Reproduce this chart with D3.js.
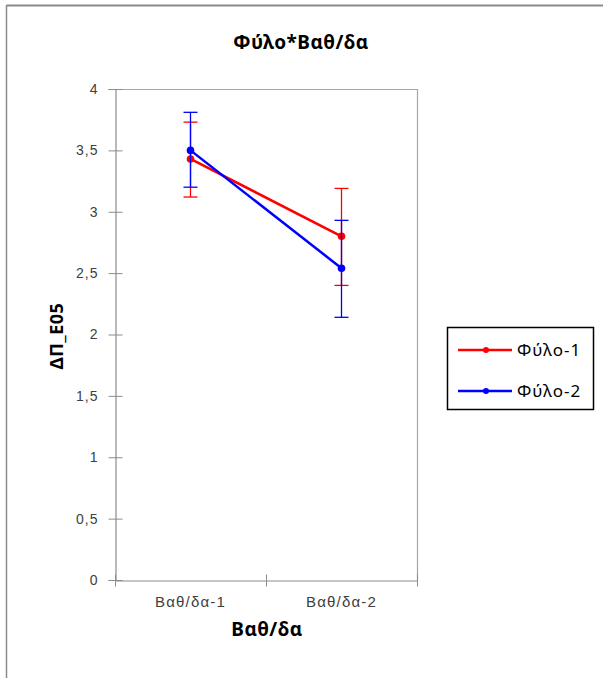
<!DOCTYPE html>
<html>
<head>
<meta charset="utf-8">
<script src="https://cdn.jsdelivr.net/npm/d3@7"></script>
<style>
  html, body { margin: 0; padding: 0; background: #fff; }
  svg { display: block; font-family: "Noto Sans", "Open Sans", sans-serif; }
</style>
</head>
<body>
<svg id="chart" width="603" height="678"></svg>
<script>
// ---------- DATA ----------
const categories = ["Βαθ/δα-1", "Βαθ/δα-2"];
const seriesNames = ["Φύλο-1", "Φύλο-2"];
const seriesColors = ["#ff0000", "#0000ff"];
const means1 = [3.43, 2.80];
const lower1 = [3.12, 2.40];
const upper1 = [3.73, 3.19];
const means2 = [3.50, 2.54];
const lower2 = [3.20, 2.14];
const upper2 = [3.81, 2.93];
const yTicks = [0, 0.5, 1, 1.5, 2, 2.5, 3, 3.5, 4];

const series = [
  { name: seriesNames[0], color: seriesColors[0], mean: means1, lo: lower1, hi: upper1 },
  { name: seriesNames[1], color: seriesColors[1], mean: means2, lo: lower2, hi: upper2 }
];

// ---------- LAYOUT ----------
const plot = { left: 115, right: 417, top: 89, bottom: 580 };
const svg = d3.select("#chart");

// outer frame (top + left edges only are visible in the reference)
svg.append("line").attr("x1", 6.5).attr("x2", 603).attr("y1", 5.5).attr("y2", 5.5)
  .attr("stroke", "#8a8a8a").attr("stroke-width", 2);
svg.append("line").attr("x1", 6.5).attr("x2", 6.5).attr("y1", 5).attr("y2", 678)
  .attr("stroke", "#8a8a8a").attr("stroke-width", 1.5);

const x = d3.scaleBand().domain(categories).range([plot.left, plot.right]);
const y = d3.scaleLinear().domain([0, 4]).range([plot.bottom, plot.top]);
const fmt = d => String(d).replace(".", ",");

// plot frame (top + right)
svg.append("path")
  .attr("d", `M${plot.left},${plot.top + 0.5}H${plot.right + 0.5}V${plot.bottom}`)
  .attr("fill", "none").attr("stroke", "#a6a6a6").attr("stroke-width", 1.2);

// y axis
const yAxis = svg.append("g").attr("transform", `translate(${plot.left + 0.5},0)`)
  .call(d3.axisLeft(y).tickValues(yTicks).tickFormat(fmt).tickSize(7).tickPadding(10));
yAxis.select(".domain").attr("stroke", "#8c8c8c").attr("stroke-width", 1.2);
yAxis.selectAll(".tick line").attr("stroke", "#8c8c8c").attr("x1", 7);
yAxis.selectAll("text").attr("font-size", 14).attr("letter-spacing", 1).attr("fill", "#404040");

// x axis
const xAxis = svg.append("g").attr("transform", `translate(0,${plot.bottom + 0.5})`)
  .call(d3.axisBottom(x).tickSize(0).tickPadding(16));
xAxis.select(".domain").attr("stroke", "#8c8c8c").attr("stroke-width", 1.2);
xAxis.selectAll("text").attr("font-size", 15).attr("letter-spacing", 1.2).attr("fill", "#404040");
// cross tick marks at category boundaries
const bounds = [plot.left, plot.left + x.bandwidth(), plot.right];
xAxis.selectAll("line.bound").data(bounds).join("line").attr("class", "bound")
  .attr("x1", d => d + 0.5).attr("x2", d => d + 0.5).attr("y1", -6).attr("y2", 6)
  .attr("stroke", "#8c8c8c").attr("stroke-width", 1);

// titles
svg.append("text").attr("x", 301).attr("y", 49).attr("text-anchor", "middle")
  .attr("font-size", 19).attr("font-weight", "bold").attr("letter-spacing", 0.5)
  .attr("fill", "#000").text("Φύλο*Βαθ/δα");
svg.append("text").attr("x", 267).attr("y", 636).attr("text-anchor", "middle")
  .attr("font-size", 19).attr("font-weight", "bold").attr("letter-spacing", 0.5)
  .attr("fill", "#000").text("Βαθ/δα");
svg.append("text").attr("transform", "translate(63,336) rotate(-90)").attr("text-anchor", "middle")
  .attr("font-size", 18).attr("font-weight", "bold").attr("letter-spacing", 0.5)
  .attr("fill", "#000").text("ΔΠ_Ε05");

// series
const cx = c => x(c) + x.bandwidth() / 2;
const line = d3.line().x(d => cx(d.c)).y(d => y(d.v));
series.forEach(s => {
  const g = svg.append("g");
  const pts = categories.map((c, i) => ({ c, v: s.mean[i], lo: s.lo[i], hi: s.hi[i] }));
  // error bars
  pts.forEach(p => {
    g.append("line").attr("x1", cx(p.c)).attr("x2", cx(p.c)).attr("y1", y(p.lo)).attr("y2", y(p.hi))
      .attr("stroke", s.color).attr("stroke-width", 1.3);
    [p.lo, p.hi].forEach(v => g.append("line")
      .attr("x1", cx(p.c) - 7).attr("x2", cx(p.c) + 7).attr("y1", y(v)).attr("y2", y(v))
      .attr("stroke", s.color).attr("stroke-width", 1.3));
  });
  g.append("path").attr("d", line(pts)).attr("fill", "none")
    .attr("stroke", s.color).attr("stroke-width", 2.5);
  g.selectAll("circle").data(pts).join("circle")
    .attr("cx", d => cx(d.c)).attr("cy", d => y(d.v)).attr("r", 3.8).attr("fill", s.color);
});

// legend
const lg = svg.append("g");
lg.append("rect").attr("x", 447.5).attr("y", 327.5).attr("width", 146).attr("height", 82)
  .attr("fill", "#fff").attr("stroke", "#000").attr("stroke-width", 1.5);
series.forEach((s, i) => {
  const ly = 350 + i * 41;
  lg.append("line").attr("x1", 458).attr("x2", 512).attr("y1", ly).attr("y2", ly)
    .attr("stroke", s.color).attr("stroke-width", 2.5);
  lg.append("circle").attr("cx", 486).attr("cy", ly).attr("r", 3).attr("fill", s.color);
  lg.append("text").attr("x", 517).attr("y", ly + 6).attr("font-size", 17)
    .attr("letter-spacing", 1).attr("fill", "#000").text(s.name);
});
</script>
</body>
</html>
